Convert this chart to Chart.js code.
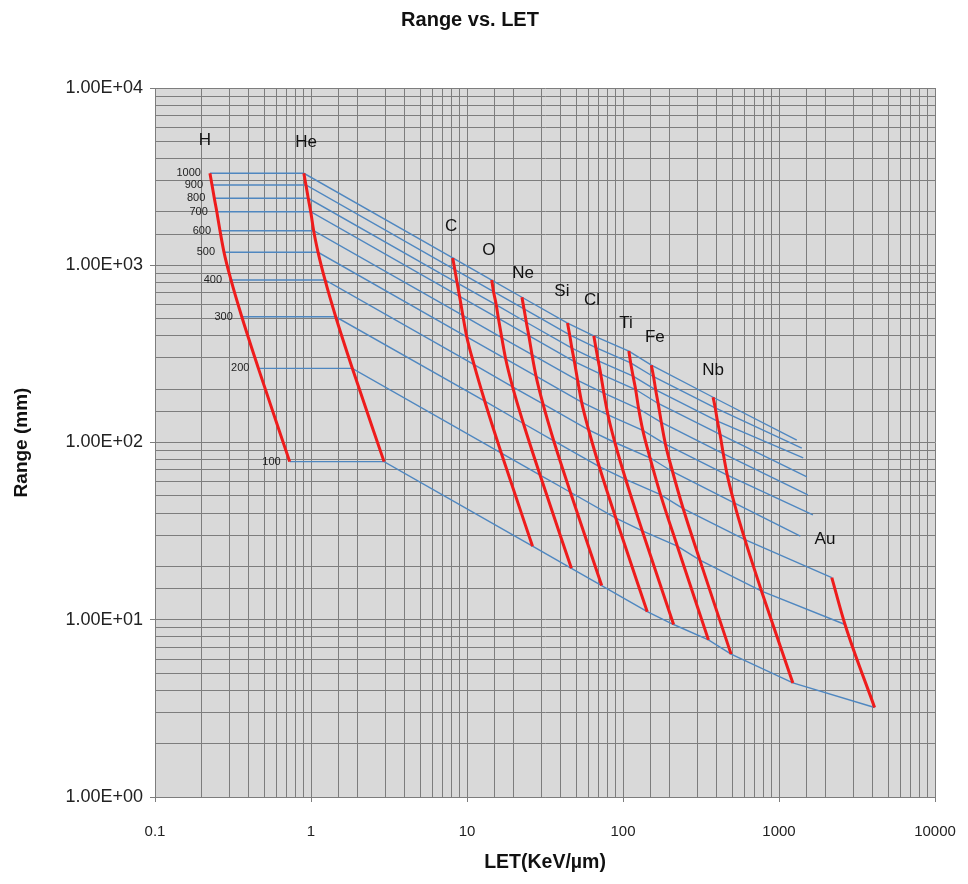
<!DOCTYPE html>
<html>
<head>
<meta charset="utf-8">
<script src="https://cdn.jsdelivr.net/npm/chart.js@4.4.1/dist/chart.umd.min.js"></script>
<style>
  body { margin: 0; background: #fff; }
  #wrap { width: 968px; height: 884px; }
</style>
</head>
<body>
<div id="wrap"><canvas id="myChart" width="968" height="884"></canvas></div>
<script>
// energies (MeV/n) of the iso-energy lines
var energies = [100, 200, 300, 400, 500, 600, 700, 800, 900, 1000];

// LET (keV/um) and range (mm) of each ion, one value per energy
var let_H  = [0.73, 0.46, 0.36, 0.307, 0.277, 0.261, 0.249, 0.240, 0.232, 0.225];
var range_H  = [78, 262, 512, 826, 1183, 1566, 2005, 2387, 2836, 3302];
var let_He = [2.94, 1.84, 1.44, 1.23, 1.11, 1.04, 0.996, 0.96, 0.928, 0.90];
var range_He = [78, 262, 512, 826, 1183, 1566, 2005, 2387, 2836, 3302];
var let_C  = [26.3, 16.6, 13.0, 11.1, 9.97, 9.40, 8.96, 8.64, 8.35, 8.10];
var range_C  = [26, 87, 171, 275, 394, 522, 668, 796, 945, 1100];
var let_O  = [46.7, 29.4, 23.0, 19.6, 17.7, 16.7, 15.9, 15.4, 14.8, 14.4];
var range_O  = [19.5, 65.5, 128, 206, 296, 391, 501, 597, 709, 825];
var let_Ne = [73, 46, 36, 30.7, 27.7, 26.1, 24.9, 24.0, 23.2, 22.5];
var range_Ne = [15.6, 52.4, 102, 165, 237, 313, 401, 477, 567, 660];
var let_Si = [143, 90, 70.5, 60.2, 54.3, 51.2, 48.8, 47.0, 45.5, 44.1];
var range_Si = [11.1, 37.4, 73, 118, 169, 224, 286, 341, 405, 472];
var let_Cl = [211, 133, 104, 88.7, 80.1, 75.4, 72.0, 69.4, 67.0, 65.0];
var range_Cl = [9.4, 31.7, 62, 100, 143, 190, 243, 289, 343, 400];
var let_Ti = [353, 223, 174, 149, 134, 126, 120.5, 116, 112, 109];
var range_Ti = [7.7, 26, 50.8, 82, 117, 155, 199, 237, 281, 328];
var let_Fe = [493, 311, 243, 208, 187, 176, 168, 162, 157, 152];
var range_Fe = [6.4, 21.7, 42.4, 68.4, 98, 130, 166, 198, 235, 273];
var let_Nb = [1227, 773, 605, 516, 466, 439, 419, 403, 390, 378];
var range_Nb = [4.4, 14.5, 28.3, 45.7, 65.4, 86.6, 111, 132, 157, 180];
// Au only at 100, 200, 300
var let_Au = [4100, 2650, 2180];
var range_Au = [3.2, 9.4, 17.3];
// where the 400..1000 lines stop past Nb
var let_end   = [1370, 1650, 1530, 1510, 1430, 1400, 1300];
var range_end = [29.6, 39, 50.6, 64, 82, 93, 103];

// ion labels
var ions = ['H', 'He', 'C', 'O', 'Ne', 'Si', 'Cl', 'Ti', 'Fe', 'Nb', 'Au'];
var labelLET   = [0.209, 0.929, 7.9, 13.8, 22.9, 40.6, 63.3, 104.5, 160, 377.5, 1972];
var labelRange = [5090, 4960, 1665, 1219, 904, 715, 637, 472, 394, 256, 28.5];

var FONT = '"Liberation Sans", Arial, sans-serif';

var allLet = [let_H, let_He, let_C, let_O, let_Ne, let_Si, let_Cl, let_Ti, let_Fe, let_Nb, let_Au];
var allRange = [range_H, range_He, range_C, range_O, range_Ne, range_Si, range_Cl, range_Ti, range_Fe, range_Nb, range_Au];

function pts(xs, ys) {
    return xs.map(function (x, i) { return { x: x, y: ys[i] }; });
}

var datasets = [];
// red curves, one per ion (drawn on top)
allLet.forEach(function (l, i) {
    datasets.push({
        data: pts(l, allRange[i]),
        showLine: true,
        borderColor: '#ee1c1c',
        borderWidth: 3,
        cubicInterpolationMode: 'monotone',
        pointRadius: 0
    });
});
// blue iso-energy lines
energies.forEach(function (e, k) {
    var line = [];
    for (var i = 0; i < 10; i++) line.push({ x: allLet[i][k], y: allRange[i][k] });
    if (k < 3) line.push({ x: let_Au[k], y: range_Au[k] });
    else line.push({ x: let_end[k - 3], y: range_end[k - 3] });
    datasets.push({
        data: line,
        showLine: true,
        borderColor: '#4f87c0',
        borderWidth: 1.4,
        tension: 0,
        pointRadius: 0
    });
});

function isPow10(v) {
    var l = Math.log10(v);
    return Math.abs(l - Math.round(l)) < 1e-6;
}
function sci(v) {
    var e = Math.round(Math.log10(v));
    return '1.00E' + (e < 0 ? '-' : '+') + String(Math.abs(e)).padStart(2, '0');
}

var plotBg = {
    id: 'plotBg',
    beforeDraw: function (chart) {
        var c = chart.ctx, a = chart.chartArea;
        c.save();
        c.fillStyle = '#d9d9d9';
        c.fillRect(a.left, a.top, a.right - a.left, a.bottom - a.top);
        c.restore();
    }
};

var textLabels = {
    id: 'textLabels',
    afterDraw: function (chart) {
        var c = chart.ctx, xs = chart.scales.x, ys = chart.scales.y;
        c.save();
        // title
        c.fillStyle = '#111';
        c.font = 'bold 20px ' + FONT;
        c.textAlign = 'center';
        c.textBaseline = 'middle';
        c.fillText('Range vs. LET', 470, 20);
        // ion names
        c.font = '17px ' + FONT;
        ions.forEach(function (n, i) {
            c.fillText(n, xs.getPixelForValue(labelLET[i]), ys.getPixelForValue(labelRange[i]));
        });
        // energy labels beside the H curve
        c.font = '11px ' + FONT;
        c.fillStyle = '#222';
        c.textAlign = 'right';
        energies.forEach(function (e, k) {
            c.fillText(String(e), xs.getPixelForValue(let_H[k]) - 9, ys.getPixelForValue(range_H[k]));
        });
        c.restore();
    }
};

var gridCol = '#7d7d7d';

var myChart = new Chart(document.getElementById('myChart').getContext('2d'), {
    type: 'scatter',
    data: { datasets: datasets },
    plugins: [plotBg, textLabels],
    options: {
        responsive: false,
        animation: false,
        devicePixelRatio: 1,
        layout: { padding: { top: 88, right: 33, bottom: 0, left: 0 } },
        plugins: { legend: { display: false }, tooltip: { enabled: false } },
        scales: {
            x: {
                type: 'logarithmic',
                min: 0.1,
                max: 10000,
                afterFit: function (s) { s.height = 87; s.paddingLeft = 0; s.paddingRight = 0; },
                grid: {
                    color: gridCol,
                    lineWidth: 1,
                    tickLength: 5,
                    tickColor: function (c) { return c.tick && isPow10(c.tick.value) ? gridCol : 'rgba(0,0,0,0)'; }
                },
                border: { color: gridCol },
                ticks: {
                    autoSkip: false,
                    maxRotation: 0,
                    padding: 21,
                    color: '#222',
                    font: { family: FONT, size: 15 },
                    callback: function (v) { return isPow10(v) ? String(v) : ''; }
                },
                title: {
                    display: true,
                    text: 'LET(KeV/µm)',
                    color: '#111',
                    font: { family: FONT, size: 19.5, weight: 'bold' },
                    padding: { top: 0, bottom: 10 }
                }
            },
            y: {
                type: 'logarithmic',
                min: 1,
                max: 10000,
                afterFit: function (s) { s.width = 155; s.paddingTop = 0; s.paddingBottom = 0; },
                grid: {
                    color: gridCol,
                    lineWidth: 1,
                    tickLength: 5,
                    tickColor: function (c) { return c.tick && isPow10(c.tick.value) ? gridCol : 'rgba(0,0,0,0)'; }
                },
                border: { color: gridCol },
                ticks: {
                    autoSkip: false,
                    padding: 7,
                    color: '#222',
                    font: { family: FONT, size: 18 },
                    callback: function (v) { return isPow10(v) ? sci(v) : ''; }
                },
                title: {
                    display: true,
                    text: 'Range (mm)',
                    color: '#111',
                    font: { family: FONT, size: 19, weight: 'bold' },
                    padding: { top: 10, bottom: 0 }
                }
            }
        }
    }
});
</script>
</body>
</html>
